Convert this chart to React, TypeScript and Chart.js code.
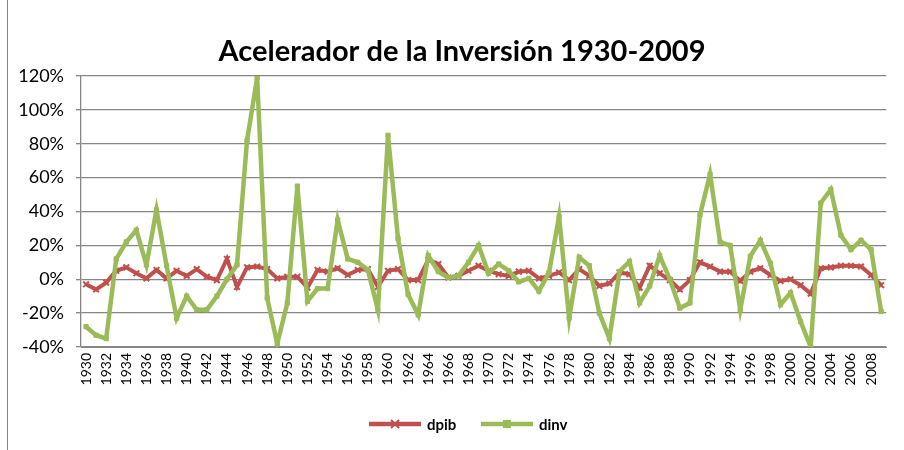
import React, { useEffect, useRef } from "react";
import { Chart, registerables } from "chart.js";

Chart.register(...registerables);

const years: string[] = [
  "1930","1931","1932","1933","1934","1935","1936","1937","1938","1939",
  "1940","1941","1942","1943","1944","1945","1946","1947","1948","1949",
  "1950","1951","1952","1953","1954","1955","1956","1957","1958","1959",
  "1960","1961","1962","1963","1964","1965","1966","1967","1968","1969",
  "1970","1971","1972","1973","1974","1975","1976","1977","1978","1979",
  "1980","1981","1982","1983","1984","1985","1986","1987","1988","1989",
  "1990","1991","1992","1993","1994","1995","1996","1997","1998","1999",
  "2000","2001","2002","2003","2004","2005","2006","2007","2008","2009",
];

// percent values
const dpib: number[] = [
  -3, -6, -2, 5, 7, 3.5, 0.5, 5.5, 0.5, 5,
  2, 6, 1.5, -0.5, 12, -4.5, 7, 7.5, 6, 0.5,
  1.5, 1.5, -5, 5.5, 4.5, 6.5, 2.5, 5.5, 6, -4.5,
  5, 6, -0.5, -0.5, 11.5, 9, 1, 2, 5, 8,
  5, 3, 2, 4.5, 5, 0.5, 2, 4, -0.5, 6,
  2, -4, -2.5, 4, 3, -5, 8, 3.5, -0.5, -6,
  -0.5, 10, 7.5, 4.5, 4.5, -1, 4.5, 6.5, 2.5, -1,
  0, -3.5, -8.5, 6.5, 7, 8, 8, 7.5, 2.5, -3.5,
];

const dinv: number[] = [
  -28, -33, -35, 12, 22, 29, 8.5, 41, 8, -23,
  -10, -18, -18, -10, 0, 8.5, 82, 119, -11, -38,
  -14, 55, -13, -5.5, -5.5, 35, 12, 10, 5.5, -18,
  85, 24, -9, -21, 14, 4.5, 1, 2, 10, 20,
  3.5, 9, 5, -1.5, 0.5, -7, 4, 37, -23, 13,
  8, -20, -35, 4.5, 10.5, -14, -4, 14, 0, -17,
  -14, 38, 62, 22, 20, -18, 13.5, 23, 9.5, -15,
  -8, -25, -40, 45, 53, 26, 17.5, 23, 17.5, -19,
];

const seriesNames: string[] = ["dpib", "dinv"];
const titleText = "Acelerador de la Inversión 1930-2009";

const RED = "#C0504D";
const GREEN = "#9BBB59";
const GRID = "#868686";
const FONT = "Lato, 'Liberation Sans', sans-serif";

const decorPlugin = {
  id: "decor",
  afterDraw(chart: any) {
    const ctx = chart.ctx;
    ctx.save();
    // outer border (left side)
    ctx.strokeStyle = GRID;
    ctx.lineWidth = 1;
    ctx.beginPath();
    ctx.moveTo(7.5, 0);
    ctx.lineTo(7.5, 450);
    ctx.stroke();

    // title
    ctx.fillStyle = "#000";
    ctx.font = "bold 29px " + FONT;
    ctx.textAlign = "center";
    ctx.textBaseline = "middle";
    ctx.fillText(titleText, 462, 52);

    // legend
    const y = 424;
    const items = [
      { name: seriesNames[0], color: RED, marker: "x", x: 369 },
      { name: seriesNames[1], color: GREEN, marker: "sq", x: 481 },
    ];
    ctx.font = "bold 15px " + FONT;
    ctx.textAlign = "left";
    for (const it of items) {
      ctx.strokeStyle = it.color;
      ctx.lineWidth = 4.5;
      ctx.beginPath();
      ctx.moveTo(it.x, y);
      ctx.lineTo(it.x + 52, y);
      ctx.stroke();
      const cx = it.x + 26;
      if (it.marker === "x") {
        ctx.lineWidth = 2;
        ctx.beginPath();
        ctx.moveTo(cx - 4, y - 4);
        ctx.lineTo(cx + 4, y + 4);
        ctx.moveTo(cx + 4, y - 4);
        ctx.lineTo(cx - 4, y + 4);
        ctx.stroke();
      } else {
        ctx.fillStyle = it.color;
        ctx.fillRect(cx - 4, y - 4, 8, 8);
      }
      ctx.fillStyle = "#000";
      ctx.fillText(it.name, it.x + 58, y + 1);
    }
    ctx.restore();
  },
};

export default function App() {
  const ref = useRef<HTMLCanvasElement | null>(null);

  useEffect(() => {
    if (!ref.current) return;
    const chart = new Chart(ref.current, {
      type: "line",
      data: {
        labels: years,
        datasets: [
          {
            label: seriesNames[0],
            data: dpib,
            borderColor: RED,
            backgroundColor: RED,
            borderWidth: 4,
            pointStyle: "crossRot",
            pointRadius: 4,
            pointBorderWidth: 2,
            pointBorderColor: RED,
            tension: 0,
            order: 1,
          },
          {
            label: seriesNames[1],
            data: dinv,
            borderColor: GREEN,
            backgroundColor: GREEN,
            borderWidth: 4.5,
            pointStyle: "rect",
            pointRadius: 3,
            pointBorderWidth: 1,
            pointBorderColor: GREEN,
            tension: 0,
            order: 0,
          },
        ],
      },
      options: {
        responsive: false,
        animation: false,
        layout: { padding: { left: 0, right: 9, top: 76, bottom: 0 } },
        plugins: {
          legend: { display: false },
          tooltip: { enabled: false },
          title: { display: false },
        },
        scales: {
          x: {
            offset: true,
            grid: { display: false, drawTicks: false },
            border: { display: true, color: GRID, width: 1 },
            ticks: {
              autoSkip: false,
              maxRotation: 90,
              minRotation: 90,
              padding: 6,
              color: "#000",
              font: { family: FONT, size: 14 },
              callback: (_v: any, i: number) => (i % 2 === 0 ? years[i] : ""),
            },
            afterFit: (s: any) => {
              s.height = 103;
            },
          },
          y: {
            min: -40,
            max: 120,
            ticks: {
              stepSize: 20,
              padding: 12,
              color: "#000",
              font: { family: FONT, size: 18 },
              callback: (v: any) => v + "%",
            },
            grid: {
              color: GRID,
              lineWidth: 1.3,
              tickLength: 5,
              drawTicks: true,
            },
            border: { display: true, color: GRID, width: 1.3 },
            afterFit: (s: any) => {
              s.width = 81;
            },
          },
        },
      },
      plugins: [decorPlugin],
    });
    return () => chart.destroy();
  }, []);

  return (
    <div style={{ position: "absolute", left: 0, top: 0, width: 904, height: 450, background: "#fff" }}>
      <canvas ref={ref} width={904} height={450} style={{ display: "block" }} />
    </div>
  );
}
